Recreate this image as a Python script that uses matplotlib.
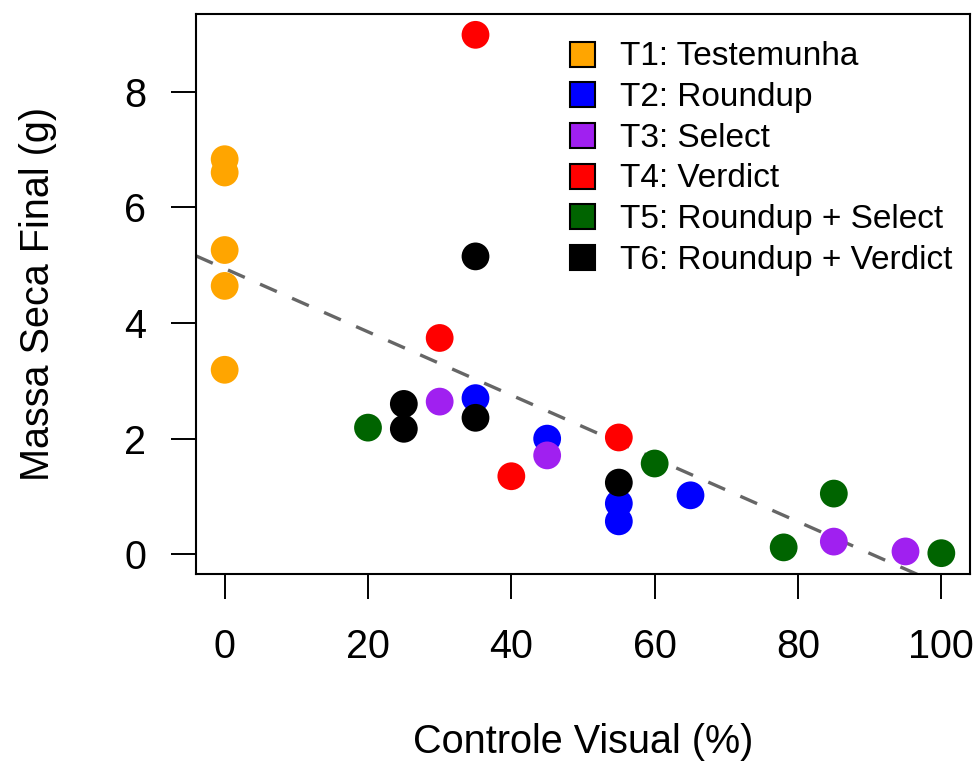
import numpy as np
import matplotlib
matplotlib.use("Agg")
import matplotlib.pyplot as plt
from matplotlib.lines import Line2D

plt.rcParams['font.family'] = ['Liberation Sans', 'DejaVu Sans']

# data
labels = ['T1: Testemunha', 'T2: Roundup', 'T3: Select', 'T4: Verdict',
          'T5: Roundup + Select', 'T6: Roundup + Verdict']
colors = ['#FFA500', '#0000FF', '#A020F0', '#FF0000', '#006400', '#000000']

x_t1 = [0, 0, 0, 0, 0]
y_t1 = [6.83, 6.60, 5.26, 4.64, 3.19]
x_t2 = [35, 45, 55, 55, 65]
y_t2 = [2.70, 2.00, 0.88, 0.57, 1.02]
x_t3 = [30, 45, 85, 95]
y_t3 = [2.64, 1.71, 0.22, 0.05]
x_t4 = [35, 30, 40, 55]
y_t4 = [8.98, 3.74, 1.35, 2.02]
x_t5 = [20, 60, 85, 78, 100]
y_t5 = [2.19, 1.57, 1.05, 0.12, 0.02]
x_t6 = [35, 25, 25, 35, 55]
y_t6 = [5.15, 2.60, 2.17, 2.36, 1.24]

xs = [x_t1, x_t2, x_t3, x_t4, x_t5, x_t6]
ys = [y_t1, y_t2, y_t3, y_t4, y_t5, y_t6]

# fitted line (abline)
intercept = 4.94
slope = -0.0547

xticks = [0, 20, 40, 60, 80, 100]
yticks = [0, 2, 4, 6, 8]

fig = plt.figure(figsize=(9.74, 7.63), dpi=100)
ax = fig.add_axes([196/974, 1 - 574/763, 774/974, 560/763])

for xv, yv, c in zip(xs, ys, colors):
    ax.scatter(xv, yv, s=400, color=c, edgecolors='none', zorder=3)

ax.set_xlim(-4, 104)
ax.set_ylim(-0.34, 9.34)

xl = np.array(ax.get_xlim())
ax.plot(xl, intercept + slope * xl, color='#666666', lw=2.4,
        dashes=(5.5, 5), zorder=2)
ax.set_xlim(-4, 104)

ax.set_xticks(xticks)
ax.set_yticks(yticks)
ax.tick_params(labelsize=28.5, length=18, width=1.4)
ax.tick_params(axis='x', pad=21)
ax.tick_params(axis='y', pad=18)
for s in ax.spines.values():
    s.set_linewidth(1.5)

ax.set_xlabel('Controle Visual (%)', fontsize=28.5, labelpad=41)
ax.set_ylabel('Massa Seca Final (g)', fontsize=28.5, labelpad=48)

handles = [Line2D([], [], marker='s', linestyle='none', markersize=18,
                  markerfacecolor=c, markeredgecolor='black',
                  markeredgewidth=1.5) for c in colors]
ax.legend(handles, labels, loc='upper left', bbox_to_anchor=(0.46, 0.975),
          frameon=False, fontsize=24, handlelength=1.0, handletextpad=0.65,
          labelspacing=0.29, borderaxespad=0)

fig.savefig('out.png', dpi=100)
